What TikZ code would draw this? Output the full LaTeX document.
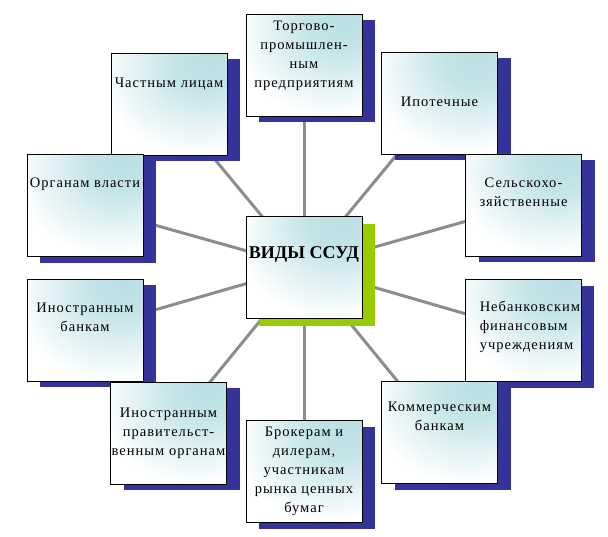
\documentclass[tikz,border=0pt]{standalone}
\usepackage{fontspec}
\setmainfont{Liberation Serif}
\newfontfamily\ssudfont{Liberation Serif}[LetterSpace=7]
\usetikzlibrary{positioning,shadows,backgrounds}
\definecolor{glowteal}{HTML}{B9DFE3}
\definecolor{shadenavy}{HTML}{333399}
\definecolor{shadegreen}{HTML}{99CC00}
\definecolor{spokegray}{HTML}{8C8C8C}
\pgfdeclareradialshading{ssudglow}{\pgfpoint{18bp}{25bp}}{color(0bp)=(glowteal); color(14bp)=(glowteal!85!white); color(40bp)=(white); color(100bp)=(white)}
\tikzset{
  ssudcard/.style={draw=black, line width=0.9pt, shade, shading=ssudglow, minimum width=116pt, minimum height=102pt, inner sep=0pt},
  ssudbox/.style={ssudcard, general shadow={fill=shadenavy, shadow xshift=13pt, shadow yshift=-6pt}},
  hub/.style={ssudcard, general shadow={fill=shadegreen, shadow xshift=13pt, shadow yshift=-8pt}},
  ssudtext/.style={font=\ssudfont\fontsize{14.5}{19}\selectfont, align=center, inner sep=0pt},
  hubtext/.style={font=\bfseries\fontsize{18}{22}\selectfont, inner sep=0pt},
  spoke/.style={line width=3pt, color=spokegray}
}
\begin{document}
\begin{tikzpicture}[x=1pt, y=-1pt]
\useasboundingbox (0,0) rectangle (608,536);
% centre
\node[hub] (hub) at (304,267) {};
\node[hubtext, below=31pt of hub.north] (hubt) {ВИДЫ ССУД};
% outer boxes, drawn so that later ones cover earlier shadows
\node[ssudbox] (chast) at (169,104) {};
\node[ssudtext, below=25pt of chast.north] (chastt) {Частным лицам};
\node[ssudbox] (organ) at (85,205.5) {};
\node[ssudtext, below=24pt of organ.north] (organt) {Органам власти};
\node[ssudbox] (inbank) at (85,330) {};
\node[ssudtext, below=24pt of inbank.north] (inbankt) {Иностранным\\банкам};
\node[ssudbox] (inprav) at (168.5,433) {};
\node[ssudtext, below=26pt of inprav.north] (inpravt) {Иностранным\\правительст-\\венным органам};
\node[ssudbox] (broker) at (304,471.5) {};
\node[ssudtext, below=7pt of broker.north] (brokert) {Брокерам и\\дилерам,\\участникам\\рынка ценных\\бумаг};
\node[ssudbox] (torg) at (304,65) {};
\node[ssudtext, below=7pt of torg.north] (torgt) {Торгово-\\промышлен-\\ным\\предприятиям};
\node[ssudbox] (ipot) at (439.5,103) {};
\node[ssudtext, below=45pt of ipot.north] (ipott) {Ипотечные};
\node[ssudbox] (selsk) at (523.5,205) {};
\node[ssudtext, below=24pt of selsk.north] (selskt) {Сельскохо-\\зяйственные};
\node[ssudbox] (nebank) at (523,330.5) {};
\node[ssudtext, align=left, below right=22pt and 15pt of nebank.north west] (nebankt) {Небанковским\\финансовым\\учреждениям};
\node[ssudbox] (kommer) at (439.5,432.5) {};
\node[ssudtext, below=21pt of kommer.north] (kommert) {Коммерческим\\банкам};
% spokes behind everything
\begin{scope}[on background layer]
\draw[spoke] (hub.center) -- (torg.center);
\draw[spoke] (hub.center) -- (ipot.center);
\draw[spoke] (hub.center) -- (selsk.center);
\draw[spoke] (hub.center) -- (nebank.center);
\draw[spoke] (hub.center) -- (kommer.center);
\draw[spoke] (hub.center) -- (broker.center);
\draw[spoke] (hub.center) -- (inprav.center);
\draw[spoke] (hub.center) -- (inbank.center);
\draw[spoke] (hub.center) -- (organ.center);
\draw[spoke] (hub.center) -- (chast.center);
\end{scope}
\end{tikzpicture}
\end{document}
